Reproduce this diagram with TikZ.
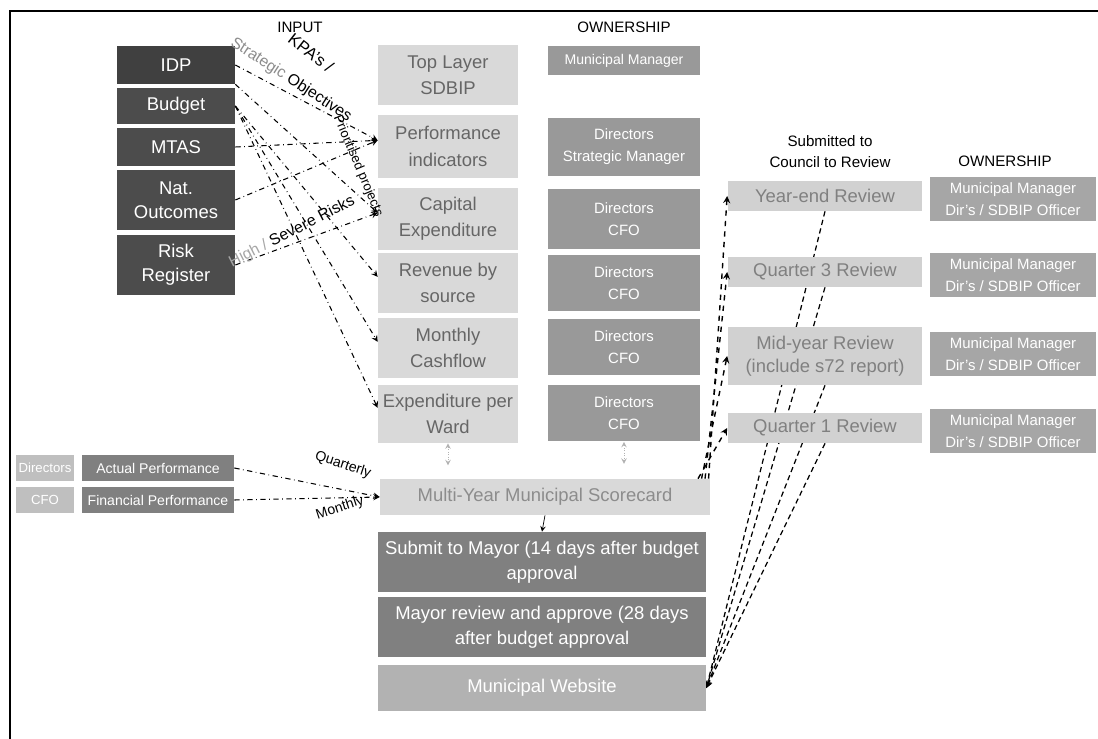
\documentclass[tikz,border=0pt]{standalone}
\usepackage{fontspec}
\setmainfont{Liberation Sans}
\usetikzlibrary{backgrounds}
\begin{document}
\begin{tikzpicture}[x=0.02cm,y=-0.02cm,>=stealth,
	font=\fontsize{10.5}{15}\selectfont,
	inbox/.style={fill=black!70,text=white,minimum width=2.36cm,inner sep=1pt,align=center,font=\fontsize{10.5}{13.5}\selectfont},
	midbox/.style={fill=black!15,text=black!60,minimum width=2.8cm,inner sep=1pt,align=center},
	ownbox/.style={fill=black!40,text=white,minimum width=3.04cm,inner sep=1pt,align=center,font=\fontsize{8.5}{12.5}\selectfont},
	revbox/.style={fill=black!18,text=black!50,minimum width=3.9cm,inner sep=1pt,align=center,font=\fontsize{10.5}{13}\selectfont},
	rownbox/.style={fill=black!35,text=white,minimum width=3.32cm,minimum height=0.88cm,inner sep=1pt,align=center,font=\fontsize{8.5}{12.5}\selectfont},
	flowbox/.style={fill=black!50,text=white,minimum width=6.56cm,minimum height=1.2cm,inner sep=1pt,align=center,font=\fontsize{10.5}{14}\selectfont},
	smallbox/.style={fill=black!25,text=white,minimum width=1.16cm,minimum height=0.52cm,inner sep=1pt,font=\fontsize{7.5}{9}\selectfont},
	perfbox/.style={fill=black!50,text=white,minimum width=3.04cm,minimum height=0.52cm,inner sep=1pt,font=\fontsize{8}{9}\selectfont},
	head/.style={align=center,font=\fontsize{8.6}{12}\selectfont},
	lbl/.style={inner sep=0pt,font=\fontsize{9.5}{11}\selectfont},
	feed/.style={->,dashdotted,line width=0.6pt}]
	\useasboundingbox (0,0) rectangle (1098,739);
	\draw[line width=1.6pt] (10,739)--(10,11)--(1098,11);
	% headings
	\node[head] (hin) at (300,27) {INPUT};
	\node[head] (hown) at (624,27) {OWNERSHIP};
	\node[head] (hsub) at (830,152) {Submitted to\\Council to Review};
	\node[head] (hownr) at (1005,161) {OWNERSHIP};
	% input
	\node[inbox,fill=black!75,minimum height=0.76cm] (idp) at (176,65) {IDP};
	\node[inbox,minimum height=0.72cm] (bud) at (176,106) {Budget};
	\node[inbox,minimum height=0.76cm] (mtas) at (176,147) {MTAS};
	\node[inbox,minimum height=1.2cm] (nat) at (176,200) {Nat.\\Outcomes};
	\node[inbox,minimum height=1.2cm] (risk) at (176,265) {Risk\\Register};
	% SDBIP components
	\node[midbox,minimum height=1.2cm] (top) at (448,75) {Top Layer\\SDBIP};
	\node[midbox,minimum height=1.26cm] (perf) at (448,146.5) {Performance\\indicators};
	\node[midbox,minimum height=1.24cm] (capex) at (448,219) {Capital\\Expenditure};
	\node[midbox,minimum height=1.2cm] (rev) at (448,283) {Revenue by\\source};
	\node[midbox,minimum height=1.2cm] (cash) at (448,348) {Monthly\\Cashflow};
	\node[midbox,minimum height=1.16cm] (ward) at (448,414) {Expenditure per\\Ward};
	% ownership
	\node[ownbox,minimum height=0.58cm,font=\fontsize{8}{10}\selectfont] (ownmm) at (624,61) {Municipal Manager};
	\node[ownbox,minimum height=1.16cm] (ownperf) at (624,147) {Directors\\Strategic Manager};
	\node[ownbox,minimum height=1.2cm] (owncap) at (624,219) {Directors\\CFO};
	\node[ownbox,minimum height=1.14cm] (ownrev) at (624,283) {Directors\\CFO};
	\node[ownbox,minimum height=1.14cm] (owncash) at (624,347) {Directors\\CFO};
	\node[ownbox,minimum height=1.14cm] (ownward) at (624,413) {Directors\\CFO};
	% council reviews
	\node[revbox,minimum height=0.6cm] (yend) at (825,196) {Year-end Review};
	\node[revbox,minimum height=0.6cm] (q3) at (825,272) {Quarter 3 Review};
	\node[revbox,minimum height=1.16cm] (mid) at (825,356) {Mid-year Review\\(include s72 report)};
	\node[revbox,minimum height=0.6cm] (q1) at (825,428) {Quarter 1 Review};
	\node[rownbox] (rown1) at (1013,199) {Municipal Manager\\Dir's / SDBIP Officer};
	\node[rownbox] (rown2) at (1013,275) {Municipal Manager\\Dir's / SDBIP Officer};
	\node[rownbox] (rown3) at (1013,354) {Municipal Manager\\Dir's / SDBIP Officer};
	\node[rownbox] (rown4) at (1013,431) {Municipal Manager\\Dir's / SDBIP Officer};
	% scorecard and approval
	\node[fill=black!15,text=black!45,minimum width=6.6cm,minimum height=0.72cm,inner sep=1pt] (score) at (545,497) {Multi-Year Municipal Scorecard};
	\node[flowbox] (submit) at (542,562) {Submit to Mayor (14 days after budget\\approval};
	\node[flowbox] (approve) at (542,627) {Mayor review and approve (28 days\\after budget approval};
	\node[flowbox,fill=black!30,minimum height=0.94cm] (web) at (542,688) {Municipal Website};
	% monitoring
	\node[smallbox] (dir) at (45,468) {Directors};
	\node[smallbox] (cfo) at (45,500) {CFO};
	\node[perfbox] (actual) at (158,468) {Actual Performance};
	\node[perfbox] (fin) at (158,500) {Financial Performance};
	% inputs to SDBIP
	\draw[feed] (idp.east)--(perf.175);
	\draw[feed] (idp.south east)--(capex.175);
	\draw[feed] (bud.east)--(rev.175);
	\draw[feed] (bud.east)--(cash.175);
	\draw[feed] (bud.east)--(ward.175);
	\draw[feed] (mtas.east)--(perf.175);
	\draw[feed] (nat.east)--(perf.175);
	\draw[feed] (risk.east)--(capex.175);
	\node[lbl,rotate=-38] (kpa) at (311,53) {KPA's /};
	\node[lbl,rotate=-33,font=\fontsize{9}{11}\selectfont] (strat) at (291,80) {{\color{black!45}Strategic} Objectives};
	\node[lbl,rotate=-67,font=\fontsize{7.5}{9}\selectfont] (prio) at (358,166) {Prioritised projects};
	\node[lbl,rotate=27,font=\fontsize{9}{11}\selectfont] (sev) at (292,232) {{\color{black!35}High /} Severe Risks};
	\draw[black!30,densely dotted,<->] (ward.south)--++(0,22);
	\draw[black!30,densely dotted,<->] (ownward.south)--++(0,22);
	% performance feeds
	\draw[feed] (actual.east)--(score.west);
	\draw[feed] (fin.east)--(score.west);
	\node[lbl,rotate=-18,font=\fontsize{8}{9}\selectfont] (qtr) at (343,465) {Quarterly};
	\node[lbl,rotate=18,font=\fontsize{8}{9}\selectfont] (mon) at (340,508) {Monthly};
	\draw[->] (score.south)--(submit.north);
	% to council
	\draw[->,dashed,line width=0.8pt] ([xshift=-1pt]score.north east)--(yend.west);
	\draw[->,dashed,line width=0.8pt] ([xshift=-3pt]score.north east)--(q3.west);
	\draw[->,dashed,line width=0.8pt] ([xshift=-5pt]score.north east)--(mid.west);
	\draw[->,dashed,line width=0.8pt] ([xshift=-7pt]score.north east)--(q1.west);
	\begin{pgfonlayer}{background}
		\draw[->,densely dashed,line width=0.7pt] (yend.south)--(web.east);
		\draw[->,densely dashed,line width=0.7pt] (q3.south)--(web.east);
		\draw[->,densely dashed,line width=0.7pt] (mid.south)--(web.east);
		\draw[->,densely dashed,line width=0.7pt] (q1.south)--(web.east);
	\end{pgfonlayer}
\end{tikzpicture}
\end{document}
